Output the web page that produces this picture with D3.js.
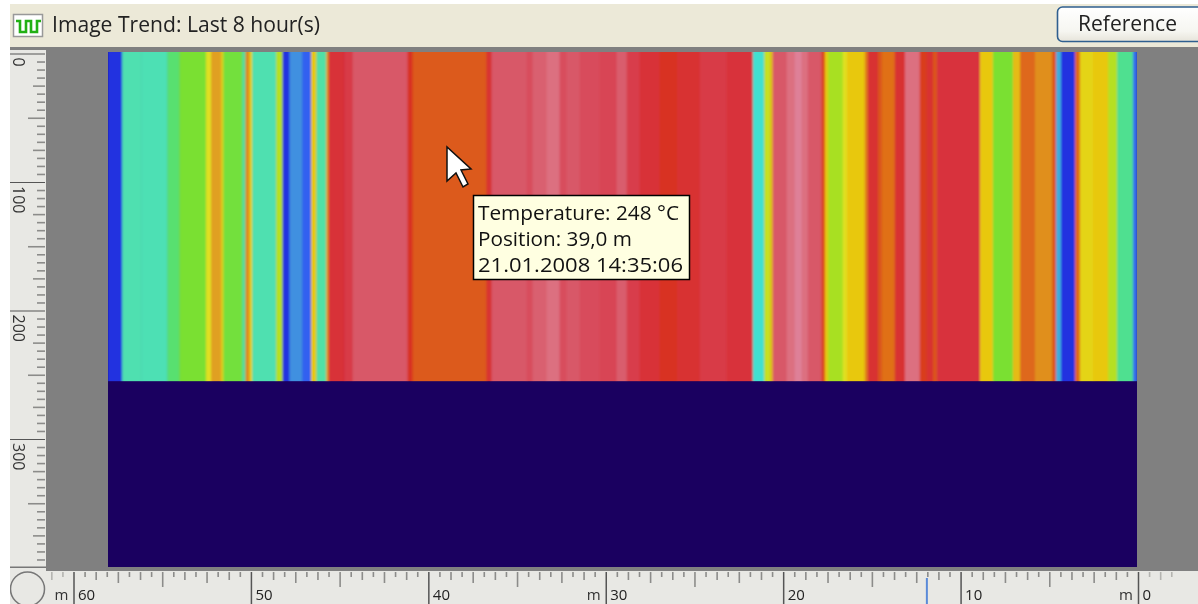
<!DOCTYPE html>
<html><head><meta charset="utf-8">
<script src="https://cdn.jsdelivr.net/npm/d3@7/dist/d3.min.js"></script>
<style>html,body{margin:0;padding:0;background:#fff;overflow:hidden}svg{display:block}</style>
</head><body><svg id="c" width="1198" height="604"></svg>
<script>
// Position of the far edge of every band along the line, metres (starting at the far end)
const bandStart = 58.09;
const bandEnd = [57.26,56.19,54.71,54.03,52.53,52.25,51.68,51.55,50.48,50.31,50.08,49.93,48.58,48.22,47.83,47.10,46.61,46.31,45.76,45.63,44.73,44.27,41.17,40.89,36.72,36.44,34.46,34.12,33.33,32.60,32.21,31.47,30.35,29.39,28.82,28.09,26.96,26.00,24.70,23.18,21.71,21.07,20.72,20.59,19.80,19.35,18.96,18.61,17.84,17.65,17.48,16.64,16.41,15.40,15.23,14.66,14.44,13.71,13.14,12.30,11.90,11.56,11.33,8.91,8.18,7.05,6.65,5.81,4.85,4.62,4.34,3.55,3.27,2.54,1.69,1.18,0.28,0.05];
// Temperature of every band, degrees C
const bandTemp = [100,138,137,150,165,190,215,195,162,140,225,195,138,178,100,118,110,200,140,215,270,276,295,262,248,268,295,288,300,310,288,295,287,283,298,278,270,262,268,276,271,130,182,205,295,310,320,310,295,255,200,175,190,200,230,268,250,235,268,310,258,268,250,272,200,165,205,240,222,250,122,100,240,195,200,178,145,112];
// Colour map
const mapTemps = [100,110,118,130,138,145,150,165,175,182,190,200,215,235,248,262,270,280,295,310,320];
const mapColors = ["#2030e0","#3060f0","#4090e0","#40e0d0","#50e0b0","#50e090","#58e070","#7ae030","#a8e020","#c8e020","#e0e020","#e8c810","#e0a020","#e07018","#dc5a1e","#d83020","#d83038","#d84050","#d85868","#dc7080","#de8098"];
const scanRows = 255;
const xMajors = [60,50,40,30,20,10,0];
const yMajors = [0,100,200,300];
const unitMarks = [60,30,0];
const titleText = "Image Trend: Last 8 hour(s)";
const buttonText = "Reference";
const tipLines = ["Temperature: 248 °C","Position: 39,0 m","21.01.2008 14:35:06"];
const cursorMark = 11.9; // blue marker on the position ruler, metres

const FONT = "'Open Sans','Noto Sans',sans-serif";
const svg = d3.select("#c").style("filter","blur(0.55px)");
const x = d3.scaleLinear().domain([60,0]).range([73.5,1138]);
const y = d3.scaleLinear().domain([0,400]).range([53.5,567.5]);
const color = d3.scaleLinear().domain(mapTemps).range(mapColors).interpolate(d3.interpolateRgb).clamp(true);

const defs = svg.append("defs");
defs.append("filter").attr("id","soft").attr("x","-2%").attr("width","104%").attr("y","-2%").attr("height","104%")
  .append("feGaussianBlur").attr("stdDeviation","1.3 0");
defs.append("clipPath").attr("id","plotClip").append("rect").attr("x",108).attr("y",52).attr("width",1029).attr("height",515);
defs.append("linearGradient").attr("id","btn").attr("x1",0).attr("x2",0).attr("y1",0).attr("y2",1)
  .selectAll("stop").data([["0%","#ffffff"],["70%","#f6f6f1"],["100%","#e6e4da"]]).join("stop")
  .attr("offset",d=>d[0]).attr("stop-color",d=>d[1]);

// page chrome
svg.append("rect").attr("x",10).attr("y",4).attr("width",1188).attr("height",44).attr("fill","#ece9d8");
svg.append("rect").attr("x",10).attr("y",48).attr("width",36).attr("height",556).attr("fill","#e8e8e4");
svg.append("rect").attr("x",10).attr("y",571).attr("width",1188).attr("height",33).attr("fill","#e8e8e4");
svg.append("rect").attr("x",46).attr("y",47).attr("width",1152).attr("height",524).attr("fill","#808080");
svg.append("rect").attr("x",10).attr("y",47).attr("width",36).attr("height",3).attr("fill","#808080");

// plot
const plot = svg.append("g").attr("clip-path","url(#plotClip)");
plot.append("rect").attr("x",108).attr("y",52).attr("width",1029).attr("height",515).attr("fill","#1a0060");
const edges = [bandStart,...bandEnd];
plot.append("g").attr("filter","url(#soft)").selectAll("rect").data(bandTemp).join("rect")
  .attr("x",(d,i)=>x(edges[i])).attr("width",(d,i)=>x(edges[i+1])-x(edges[i])+0.5)
  .attr("y",46).attr("height",y(scanRows)-46).attr("fill",d=>color(d));

// bottom ruler
const step = 10/16;
const xTicks = d3.range(-5,100).map(i=>60-i*step).filter(m=>x(m)>46&&x(m)<1198);
const isMaj = m=>Math.abs(m/10-Math.round(m/10))<1e-6;
const tLen = (u)=>{const k=Math.round(u/step);return k%16===0?33:k%8===0?16:k%4===0?12:k%2===0?9:6;};
const gx = svg.append("g").attr("transform","translate(0,571)").call(
  d3.axisBottom(x).tickValues(xTicks).tickSize(10).tickFormat(m=>xMajors.includes(Math.round(m))&&isMaj(m)?Math.round(m):""));
gx.select(".domain").remove();
gx.selectAll(".tick line").attr("y1",1).attr("y2",m=>tLen(m))
  .attr("stroke",m=>isMaj(m)&&m>=0&&m<=60?"#555":(m>60||m<0?"#b4b4b0":"#8c8c8a"))
  .attr("stroke-width",m=>isMaj(m)?1.5:1.6);
gx.selectAll(".tick text").attr("y",0).attr("dy",0).attr("x",4).attr("transform","translate(0,28.5)")
  .attr("text-anchor","start").attr("font-family",FONT).attr("font-size",15).attr("fill","#222");

svg.selectAll(".unit").data(unitMarks).join("text").attr("class","unit")
  .attr("x",d=>x(d)-5).attr("y",599.5).attr("text-anchor","end").attr("font-family",FONT).attr("font-size",15).attr("fill","#333").text("m");
svg.append("line").attr("x1",x(cursorMark)).attr("x2",x(cursorMark)).attr("y1",578).attr("y2",604).attr("stroke","#5a8ad8").attr("stroke-width",2);
svg.append("circle").attr("cx",27.5).attr("cy",589).attr("r",17).attr("fill","none").attr("stroke","#777").attr("stroke-width",1.5);
svg.append("rect").attr("x",0).attr("y",0).attr("width",10).attr("height",604).attr("fill","#fff");

// left ruler
const yTicks = d3.range(0,64).map(i=>i*6.25).filter(v=>y(v)<566);
const gy = svg.append("g").attr("transform","translate(45,0)").call(
  d3.axisLeft(y).tickValues(yTicks).tickSize(7).tickFormat(()=>""));
gy.select(".domain").remove();
const yLen = v=>{const k=Math.round(v/6.25);return k%16===0?35:k%8===0?17:k%4===0?12:8;};
gy.selectAll(".tick line").attr("x1",0).attr("x2",v=>-yLen(v))
  .attr("stroke",v=>v%100===0?"#555":"#8c8c8a").attr("stroke-width",v=>v%100===0?1.2:1.6);
svg.selectAll(".ylab").data(yMajors).join("text").attr("class","ylab")
  .attr("transform",d=>`translate(13,${y(d)+4}) rotate(90)`).attr("font-family",FONT).attr("font-size",16).attr("fill","#333").text(d=>d);
svg.append("rect").attr("x",10).attr("y",566.5).attr("width",36).attr("height",1.5).attr("fill","#777");

// title bar
const icon = svg.append("g");
icon.append("rect").attr("x",13.5).attr("y",14.5).attr("width",29).attr("height",22).attr("fill","#fff").attr("stroke","#999").attr("stroke-width",1.5);
icon.append("path").attr("d",d3.line()([[16,21],[20,21],[20,32],[26,32],[26,21],[31,21],[31,32],[37,32],[37,21],[41,21]])).attr("fill","none").attr("stroke","#22b014").attr("stroke-width",2.6);
svg.append("text").attr("x",52).attr("y",32).attr("textLength",268).attr("lengthAdjust","spacingAndGlyphs").attr("font-family",FONT).attr("font-size",21).attr("fill","#222").text(titleText);

// button
svg.append("rect").attr("x",1057.5).attr("y",7).attr("width",160).attr("height",34.5).attr("rx",5).attr("fill","url(#btn)").attr("stroke","#2f5f8f").attr("stroke-width",1.6);
svg.append("text").attr("x",1078).attr("y",31).attr("textLength",99).attr("lengthAdjust","spacingAndGlyphs").attr("font-family",FONT).attr("font-size",21).attr("fill","#222").text(buttonText);

// mouse pointer
svg.append("path").attr("d",d3.line()([[447,147],[447,181],[456,173],[463,187],[468,184],[461,170],[471,169]]) + "Z")
  .attr("fill","#fff").attr("stroke","#111").attr("stroke-width",1.5);

// tooltip
svg.append("rect").attr("x",473.5).attr("y",195.5).attr("width",216).attr("height",84).attr("fill","#ffffe1").attr("stroke","#000").attr("stroke-width",1.5);
const tipW = [201,154,205];
svg.selectAll(".tip").data(tipLines).join("text").attr("class","tip")
  .attr("x",478).attr("y",(d,i)=>220+i*26).attr("textLength",(d,i)=>tipW[i]).attr("lengthAdjust","spacingAndGlyphs")
  .attr("font-family",FONT).attr("font-size",20).attr("fill","#111").text(d=>d);
</script></body></html>
